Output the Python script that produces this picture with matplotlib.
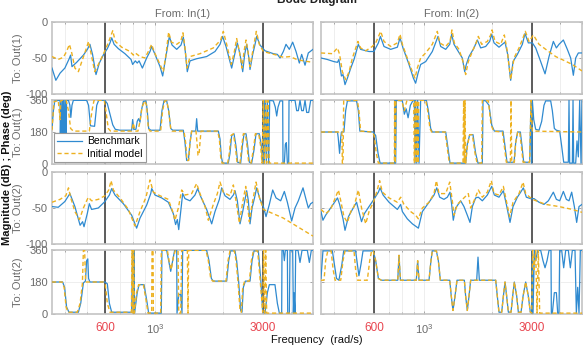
import matplotlib
matplotlib.use("Agg")
import matplotlib.pyplot as plt
from matplotlib.ticker import FixedLocator, NullFormatter, LogLocator

plt.rcParams['font.family'] = ['Liberation Sans', 'DejaVu Sans']
plt.rcParams['mathtext.fontset'] = 'custom'
plt.rcParams['mathtext.rm'] = 'Liberation Sans'

# ---------------- data: (frequency rad/s, value) ----------------
# Out(1) <- In(1), magnitude dB
mag11_bench = [(350,-64),(364,-81),(380,-71),(399,-64),(417,-51),(423,-46),(429,-62),(450,-56),(482,-46),(502,-38),(515,-31),(529,-45),(548,-73),(567,-57),(590,-46),(615,-37),(632,-29),(643,-22),(659,-31),(688,-37),(736,-44),(783,-52),(796,-59),(818,-54),(834,-57),(850,-54),(879,-64),(918,-50),(950,-41),(966,-34),(1000,-45),(1052,-62),(1081,-75),(1107,-55),(1134,-36),(1157,-20),(1189,-32),(1247,-38),(1303,-32),(1334,-21),(1361,-41),(1389,-69),(1428,-54),(1528,-51),(1692,-48),(1842,-41),(1939,-31),(1990,-20),(2061,-34),(2183,-64),(2259,-43),(2313,-29),(2377,-45),(2443,-69),(2493,-45),(2544,-31),(2596,-48),(2632,-66),(2705,-45),(2770,-31),(2817,-20),(2914,-32),(3067,-40),(3338,-44),(3478,-45),(3573,-50),(3696,-41),(3798,-31),(3929,-38),(4065,-28),(4206,-41),(4350,-57),(4455,-45),(4610,-60),(4767,-43),(5000,-38)]
mag11_init = [(350,-48),(373,-52),(393,-49),(406,-41),(418,-31),(428,-43),(442,-64),(458,-69),(474,-55),(495,-38),(508,-27),(522,-45),(541,-69),(561,-59),(590,-45),(621,-29),(650,-12),(667,-27),(712,-35),(775,-41),(802,-46),(818,-43),(858,-48),(903,-50),(944,-38),(966,-31),(990,-41),(1052,-59),(1088,-69),(1118,-45),(1149,-14),(1181,-28),(1247,-31),(1299,-27),(1329,-15),(1357,-36),(1385,-64),(1428,-48),(1581,-44),(1811,-36),(1952,-25),(2005,-13),(2075,-31),(2175,-59),(2244,-41),(2297,-23),(2361,-41),(2426,-64),(2476,-41),(2527,-25),(2579,-41),(2632,-62),(2723,-36),(2807,-13),(2894,-31),(3015,-41),(3454,-46),(3696,-49),(3956,-48),(4234,-52),(4532,-54),(5000,-56)]

# Out(1) <- In(1), phase deg
ph11_bench = [(350,200),(355,300),(360,355),(378,358),(380,358),(381,140),(384,358),(387,140),(390,358),(392,140),(395,358),(398,140),(401,358),(404,140),(406,358),(414,358),(420,330),(424,262),(429,330),(435,358),(498,358),(508,330),(518,215),(540,212),(552,330),(563,358),(600,358),(615,340),(632,280),(650,220),(667,195),(700,190),(788,190),(796,250),(805,195),(823,195),(834,240),(846,255),(858,235),(870,300),(888,352),(912,355),(924,300),(937,200),(957,190),(1052,190),(1073,300),(1095,355),(1126,355),(1149,300),(1173,200),(1197,190),(1334,190),(1357,120),(1380,20),(1404,20),(1428,120),(1452,185),(1513,185),(1528,255),(1544,185),(1906,185),(1939,140),(1965,40),(1992,5),(2110,5),(2146,60),(2183,160),(2236,170),(2282,100),(2320,10),(2393,5),(2434,100),(2476,170),(2527,170),(2571,100),(2614,10),(2677,5),(2742,80),(2798,170),(2894,170),(2954,100),(2995,5),(3015,5),(3025,358),(3046,5),(3078,358),(3109,5),(3141,358),(3184,5),(3216,358),(3338,355),(3405,320),(3454,270),(3501,320),(3573,355),(3671,355),(3683,5),(3734,5),(3772,110),(3811,120),(3851,5),(3903,5),(3916,358),(4163,358),(4234,300),(4306,300),(4380,358),(4455,300),(4532,300),(4610,358),(4688,290),(4785,290),(4883,358),(5000,358)]
ph11_init = [(350,190),(357,350),(373,358),(380,250),(383,358),(404,358),(414,300),(423,200),(435,185),(512,185),(526,300),(537,358),(596,358),(606,300),(621,200),(636,185),(788,185),(802,230),(815,185),(840,185),(858,240),(876,320),(900,355),(918,330),(934,200),(950,185),(1059,185),(1080,300),(1103,355),(1126,355),(1149,300),(1173,200),(1189,185),(1343,185),(1366,120),(1385,20),(1409,20),(1428,120),(1452,185),(1518,185),(1533,120),(1549,50),(1565,50),(1581,120),(1597,185),(1893,185),(1926,140),(1952,40),(1979,5),(2096,5),(2131,60),(2168,160),(2221,170),(2266,100),(2305,10),(2377,5),(2418,100),(2459,170),(2510,170),(2553,100),(2596,10),(2659,5),(2723,80),(2779,170),(2875,170),(2934,100),(2974,5),(3015,358),(3046,5),(3088,358),(3119,5),(3162,358),(3205,5),(5000,5)]

# Out(2) <- In(1), magnitude dB
mag21_bench = [(350,-48),(373,-49),(399,-41),(420,-30),(442,-48),(466,-74),(478,-69),(485,-76),(502,-57),(512,-44),(524,-52),(561,-50),(600,-41),(628,-32),(643,-23),(665,-32),(724,-44),(788,-60),(829,-78),(858,-64),(918,-46),(957,-30),(967,-23),(1000,-32),(1070,-36),(1145,-42),(1205,-58),(1233,-73),(1255,-66),(1273,-80),(1299,-55),(1325,-30),(1357,-37),(1428,-40),(1502,-32),(1544,-23),(1592,-34),(1692,-52),(1781,-72),(1842,-55),(1926,-38),(1972,-22),(2040,-33),(2146,-38),(2221,-32),(2259,-26),(2313,-40),(2377,-72),(2443,-55),(2502,-38),(2544,-26),(2588,-40),(2632,-72),(2687,-50),(2760,-35),(2817,-22),(2914,-38),(3015,-48),(3098,-62),(3205,-45),(3316,-25),(3431,-36),(3597,-40),(3734,-27),(3851,-42),(4023,-68),(4163,-50),(4306,-40),(4516,-22),(4656,-38),(4767,-50),(4883,-44),(5000,-42)]
mag21_init = [(350,-42),(380,-38),(403,-33),(414,-22),(423,-35),(442,-55),(463,-66),(482,-50),(498,-40),(507,-35),(524,-40),(561,-38),(600,-33),(624,-25),(639,-12),(654,-25),(700,-36),(762,-52),(815,-75),(858,-55),(912,-35),(950,-11),(983,-28),(1052,-33),(1145,-38),(1197,-55),(1225,-67),(1268,-50),(1312,-25),(1357,-32),(1452,-30),(1528,-16),(1581,-30),(1664,-48),(1721,-67),(1811,-45),(1887,-30),(1939,-14),(2005,-28),(2146,-33),(2221,-18),(2282,-40),(2361,-71),(2443,-42),(2519,-20),(2553,-40),(2614,-69),(2687,-45),(2742,-30),(2798,-14),(2894,-35),(3015,-52),(3696,-64),(5000,-89)]

# Out(2) <- In(1), phase deg
ph21_bench = [(350,180),(390,180),(398,150),(406,40),(416,10),(458,10),(469,60),(482,175),(492,185),(498,300),(504,310),(508,200),(515,180),(600,180),(615,170),(628,60),(643,10),(788,10),(796,358),(802,5),(807,358),(812,5),(834,120),(850,165),(894,165),(918,80),(937,5),(1066,5),(1073,358),(1126,358),(1149,300),(1173,240),(1197,300),(1221,358),(1247,358),(1251,5),(1273,110),(1299,110),(1316,5),(1325,358),(1692,358),(1733,300),(1775,200),(1811,185),(2075,185),(2118,300),(2161,355),(2259,355),(2297,300),(2345,180),(2393,20),(2426,10),(2459,150),(2510,185),(2632,185),(2687,300),(2742,355),(2865,355),(2934,200),(2995,10),(3015,10),(3067,5),(3141,120),(3205,165),(3394,165),(3478,60),(3549,5),(3634,5),(3646,358),(3696,358),(3734,300),(3772,358),(3851,358),(3864,5),(3929,5),(3956,358),(4065,358),(4093,5),(4121,120),(4163,5),(4191,358),(4292,358),(4380,290),(4470,358),(4720,358),(4817,290),(4916,358),(5000,358)]
ph21_init = [(350,180),(388,180),(396,150),(404,40),(412,10),(453,10),(466,60),(477,170),(482,358),(488,358),(493,180),(590,180),(602,170),(615,60),(632,10),(786,10),(791,358),(799,5),(804,358),(810,5),(829,120),(846,165),(888,165),(912,80),(931,5),(966,5),(970,358),(980,358),(983,5),(1059,5),(1066,358),(1134,358),(1157,290),(1181,250),(1205,320),(1230,358),(1264,358),(1273,5),(1299,5),(1312,358),(1390,358),(1399,5),(1409,358),(1681,358),(1721,300),(1763,200),(1799,185),(2061,185),(2103,300),(2146,355),(2244,355),(2282,300),(2329,180),(2377,20),(2410,10),(2443,150),(2493,185),(2614,185),(2668,300),(2723,355),(2845,355),(2914,200),(2995,10),(3025,358),(3057,5),(3088,358),(3119,5),(5000,5)]

# Out(1) <- In(2), magnitude dB
mag12_bench = [(350,-50),(373,-52),(399,-55),(414,-56),(420,-52),(431,-75),(438,-73),(447,-87),(458,-78),(474,-64),(490,-52),(512,-31),(524,-38),(571,-41),(600,-41),(628,-29),(641,-20),(665,-34),(712,-38),(762,-35),(783,-22),(807,-36),(858,-59),(897,-78),(918,-85),(941,-71),(966,-59),(1017,-55),(1088,-41),(1153,-20),(1185,-34),(1247,-38),(1299,-31),(1325,-17),(1357,-31),(1418,-41),(1477,-50),(1513,-69),(1538,-59),(1581,-48),(1664,-36),(1721,-25),(1781,-36),(1874,-34),(1952,-27),(1992,-17),(2040,-29),(2146,-35),(2221,-31),(2282,-28),(2345,-45),(2418,-81),(2476,-55),(2588,-45),(2723,-31),(2798,-16),(2894,-29),(3015,-29),(3119,-36),(3282,-55),(3431,-72),(3573,-48),(3734,-27),(3851,-36),(3956,-31),(4135,-25),(4306,-38),(4455,-50),(4578,-74),(4688,-50),(4817,-43),(5000,-43)]
mag12_init = [(350,-43),(393,-44),(414,-36),(423,-45),(435,-69),(450,-80),(466,-69),(482,-50),(510,-27),(524,-36),(552,-40),(571,-37),(590,-34),(611,-29),(643,-13),(665,-27),(712,-34),(762,-29),(783,-17),(802,-31),(843,-50),(888,-69),(912,-78),(934,-64),(966,-50),(1017,-43),(1088,-31),(1145,-13),(1173,-29),(1247,-34),(1303,-27),(1329,-11),(1361,-29),(1428,-38),(1487,-55),(1528,-73),(1570,-55),(1636,-41),(1704,-28),(1739,-20),(1799,-31),(1906,-27),(1972,-18),(1999,-11),(2061,-27),(2183,-31),(2266,-18),(2337,-41),(2418,-80),(2502,-50),(2632,-36),(2742,-22),(2807,-13),(2914,-27),(3046,-18),(3227,-31),(3490,-39),(3824,-48),(4135,-53),(4532,-59),(5000,-68)]

# Out(1) <- In(2), phase deg
ph12_bench = [(350,180),(414,180),(417,150),(423,60),(428,150),(431,180),(442,180),(450,300),(458,355),(503,355),(512,300),(520,185),(596,180),(611,160),(626,60),(639,5),(741,5),(744,358),(749,5),(754,358),(802,355),(818,280),(834,310),(850,260),(870,330),(894,358),(906,358),(912,5),(918,358),(928,5),(937,358),(950,5),(966,358),(1024,358),(1045,300),(1070,200),(1088,180),(1247,180),(1273,100),(1303,5),(1528,5),(1554,110),(1592,165),(1647,165),(1692,60),(1733,5),(1811,5),(1824,358),(1874,355),(1939,330),(1992,220),(2047,185),(2236,185),(2282,100),(2329,10),(2502,10),(2544,120),(2596,180),(2668,180),(2714,100),(2760,10),(2934,10),(2974,358),(2995,5),(3015,358),(3057,250),(3119,195),(3227,190),(3316,240),(3394,330),(3454,355),(3634,355),(3696,300),(3772,200),(3851,190),(3983,185),(4065,100),(4149,10),(4350,10),(4380,358),(4410,5),(4532,5),(4563,358),(4594,5),(4688,5),(4752,130),(4817,40),(4883,358),(4950,5),(5000,358)]
ph12_init = [(350,180),(433,180),(435,5),(438,5),(441,358),(507,358),(515,300),(524,185),(590,180),(602,160),(615,60),(628,5),(739,5),(741,358),(746,5),(751,358),(796,358),(818,300),(840,358),(900,358),(906,5),(915,358),(924,5),(931,358),(941,5),(947,358),(1017,358),(1038,300),(1062,200),(1081,180),(1239,180),(1264,100),(1294,5),(1487,5),(1497,358),(1508,5),(1518,358),(1528,5),(1559,110),(1592,165),(1636,165),(1681,60),(1716,5),(1799,5),(1811,358),(1926,355),(1979,220),(2033,185),(2221,180),(2266,100),(2313,10),(2410,10),(2426,358),(2443,10),(2510,10),(2544,120),(2596,180),(2650,180),(2696,100),(2742,10),(2934,10),(2974,358),(3015,185),(5000,180)]

# Out(2) <- In(2), magnitude dB
mag22_bench = [(350,-55),(357,-67),(367,-60),(386,-50),(406,-40),(414,-36),(423,-45),(438,-65),(447,-81),(463,-62),(482,-52),(503,-42),(515,-55),(529,-69),(544,-58),(571,-48),(600,-38),(628,-28),(639,-22),(659,-32),(700,-42),(762,-52),(788,-45),(802,-55),(843,-65),(888,-72),(944,-78),(983,-55),(1052,-42),(1107,-32),(1138,-22),(1173,-35),(1225,-38),(1268,-35),(1303,-28),(1325,-45),(1347,-67),(1380,-50),(1452,-40),(1502,-48),(1554,-60),(1597,-70),(1636,-48),(1692,-36),(1739,-35),(1811,-40),(1906,-32),(1992,-20),(2047,-32),(2146,-35),(2244,-26),(2313,-45),(2401,-70),(2476,-48),(2588,-35),(2677,-28),(2751,-22),(2836,-35),(2964,-37),(3067,-37),(3227,-42),(3394,-45),(3549,-40),(3734,-28),(3851,-38),(3983,-40),(4135,-27),(4263,-38),(4380,-40),(4501,-28),(4625,-48),(4736,-70),(4850,-48),(5000,-45)]
mag22_init = [(350,-52),(367,-58),(386,-52),(406,-35),(418,-25),(428,-40),(442,-62),(458,-70),(474,-55),(490,-48),(512,-25),(529,-50),(552,-72),(571,-55),(600,-40),(621,-25),(636,-12),(654,-28),(700,-36),(762,-42),(788,-35),(815,-45),(873,-55),(918,-60),(944,-65),(983,-50),(1052,-42),(1107,-30),(1134,-12),(1165,-30),(1247,-30),(1299,-14),(1334,-40),(1357,-60),(1404,-45),(1502,-36),(1570,-30),(1608,-50),(1664,-40),(1739,-25),(1811,-35),(1906,-28),(1985,-12),(2040,-30),(2146,-32),(2244,-20),(2313,-40),(2393,-62),(2476,-42),(2632,-30),(2742,-14),(2817,-30),(3015,-38),(3454,-45),(3956,-48),(4532,-52),(5000,-56)]

# Out(2) <- In(2), phase deg
ph22_bench = [(350,200),(357,355),(393,355),(401,280),(410,200),(420,190),(433,280),(441,355),(498,355),(507,280),(515,215),(526,280),(537,355),(596,355),(611,300),(628,200),(647,190),(765,190),(775,330),(786,190),(924,190),(937,300),(950,190),(1052,190),(1073,300),(1088,355),(1134,355),(1157,300),(1181,190),(1299,190),(1320,100),(1343,20),(1371,100),(1399,190),(1508,190),(1528,100),(1554,20),(1581,100),(1608,190),(1710,190),(1733,320),(1757,190),(2075,190),(2110,100),(2146,10),(2206,10),(2244,100),(2282,180),(2321,100),(2361,10),(2426,10),(2467,100),(2510,180),(2571,100),(2614,10),(2687,10),(2742,100),(2817,180),(2894,100),(2954,10),(2995,5),(3015,358),(3036,5),(3078,358),(3119,300),(3184,358),(3282,358),(3360,300),(3431,260),(3501,300),(3573,358),(3646,358),(3658,5),(3696,5),(3772,120),(3851,120),(3903,5),(3956,5),(3983,358),(4065,358),(4149,260),(4234,358),(4350,358),(4440,260),(4532,358),(4656,358),(4720,5),(4785,150),(4850,5),(4916,358),(5000,358)]
ph22_init = [(350,190),(361,190),(367,300),(375,355),(388,355),(396,250),(404,190),(428,190),(438,300),(447,355),(490,355),(498,250),(508,190),(561,190),(575,300),(586,355),(596,355),(611,300),(628,200),(647,190),(765,190),(775,330),(786,190),(924,190),(937,300),(950,190),(1052,190),(1073,300),(1088,355),(1134,355),(1157,300),(1181,190),(1299,190),(1320,100),(1343,20),(1371,100),(1399,190),(1508,190),(1528,100),(1554,20),(1581,100),(1608,190),(2075,190),(2110,100),(2146,10),(2206,10),(2244,100),(2282,180),(2321,100),(2361,10),(2426,10),(2467,100),(2510,180),(2571,100),(2614,10),(2687,10),(2742,100),(2817,180),(2894,100),(2954,10),(2995,5),(3025,358),(3067,250),(3119,358),(3162,5),(3205,358),(3249,5),(5000,5)]

series_labels = ['Benchmark', 'Initial model']
input_titles = ['From: In(1)', 'From: In(2)']
output_labels = ['To: Out(1)', 'To: Out(2)']
marker_freqs = [600, 3000]
xtick_vals = [600, 1000, 3000]
xtick_text = ['600', '$10^{3}$', '3000']
freq_range = (350, 5000)

# ---------------- figure ----------------
BLUE = '#2f8ad0'
ORANGE = '#edb120'
GRAY_TXT = '#6b6b6b'
RED = '#e8454f'

fig = plt.figure(figsize=(5.86, 3.49), dpi=100)
W, H = 586, 349

def add_ax(x0, y0, w, h):
    return fig.add_axes([x0 / W, 1 - (y0 + h) / H, w / W, h / H])

col_x = [52, 321]
col_w = 261
rows = [(22, 72, 'mag'), (100, 64, 'ph'), (172, 72, 'mag'), (250, 64, 'ph')]

panels = {
    (0, 0): (mag11_bench, mag11_init), (1, 0): (ph11_bench, ph11_init),
    (2, 0): (mag21_bench, mag21_init), (3, 0): (ph21_bench, ph21_init),
    (0, 1): (mag12_bench, mag12_init), (1, 1): (ph12_bench, ph12_init),
    (2, 1): (mag22_bench, mag22_init), (3, 1): (ph22_bench, ph22_init),
}

for r, (y0, h, kind) in enumerate(rows):
    for c in range(2):
        ax = add_ax(col_x[c], y0, col_w, h)
        bench, init = panels[(r, c)]
        ax.set_xscale('log')
        ax.set_xlim(*freq_range)
        ax.grid(True, which='both', color='#ebebeb', lw=0.6)
        ax.set_axisbelow(True)
        for mf in marker_freqs:
            ax.axvline(mf, color='#505050', lw=1.3, zorder=2)
        lb, = ax.plot([p[0] for p in bench], [p[1] for p in bench], color=BLUE, lw=0.9, zorder=3)
        li, = ax.plot([p[0] for p in init], [p[1] for p in init], color=ORANGE, lw=1.0,
                      ls=(0, (3.0, 2.0)), zorder=4)
        if kind == 'mag':
            ax.set_ylim(-100, 0)
            ax.set_yticks([-100, -50, 0])
            ax.set_yticklabels(['-100', '-50', '0'] if c == 0 else [])
        else:
            ax.set_ylim(0, 360)
            ax.set_yticks([0, 180, 360])
            ax.set_yticklabels(['0', '180', '360'] if c == 0 else [])
        ax.xaxis.set_major_locator(FixedLocator(xtick_vals))
        ax.xaxis.set_minor_locator(LogLocator(base=10, subs=range(2, 10)))
        ax.xaxis.set_minor_formatter(NullFormatter())
        ax.tick_params(axis='both', which='both', direction='in', top=True, right=True,
                       length=2.5, width=0.6, color='#9a9a9a', labelsize=8,
                       labelcolor=GRAY_TXT, pad=3)
        ax.tick_params(axis='x', which='minor', length=1.5)
        if r == 3:
            ax.tick_params(axis='x', which='major', pad=6)
            ax.set_xticklabels(xtick_text)
            for t, col in zip(ax.get_xticklabels(), [RED, GRAY_TXT, RED]):
                t.set_color(col)
                t.set_fontsize(8.5 if col == RED else 8)
        else:
            ax.set_xticklabels([])
        for s in ax.spines.values():
            s.set_color('#c4c4c4')
            s.set_linewidth(1.2)
        if r == 1 and c == 0:
            leg = ax.legend([lb, li], series_labels, loc='lower left', fontsize=7.5,
                            handlelength=2.4, borderpad=0.3, labelspacing=0.25,
                            handletextpad=0.5, borderaxespad=0.2, fancybox=False,
                            framealpha=1, edgecolor='#9a9a9a')
            leg.get_frame().set_linewidth(0.8)

# titles and labels
fig.text(182.5 / W, 1 - 14 / H, input_titles[0], ha='center', va='center', fontsize=8, color=GRAY_TXT)
fig.text(451.5 / W, 1 - 14 / H, input_titles[1], ha='center', va='center', fontsize=8, color=GRAY_TXT)
fig.text(317 / W, 1 - 0 / H, 'Bode Diagram', ha='center', va='center', fontsize=8.5,
         fontweight='bold', color='#222222')
for y0, lab in zip([22, 172], output_labels):
    fig.text(18 / W, 1 - (y0 + 36) / H, lab, ha='center', va='center', rotation=90, fontsize=8, color=GRAY_TXT)
    fig.text(18 / W, 1 - (y0 + 110) / H, lab, ha='center', va='center', rotation=90, fontsize=8, color=GRAY_TXT)
fig.text(7 / W, 1 - 168 / H, 'Magnitude (dB) ; Phase (deg)', ha='center', va='center',
         rotation=90, fontsize=8, color='#111111', fontweight='semibold')
fig.text(317 / W, 1 - 340 / H, 'Frequency  (rad/s)', ha='center', va='center', fontsize=8, color='#111111')

fig.savefig('out.png', dpi=100)
